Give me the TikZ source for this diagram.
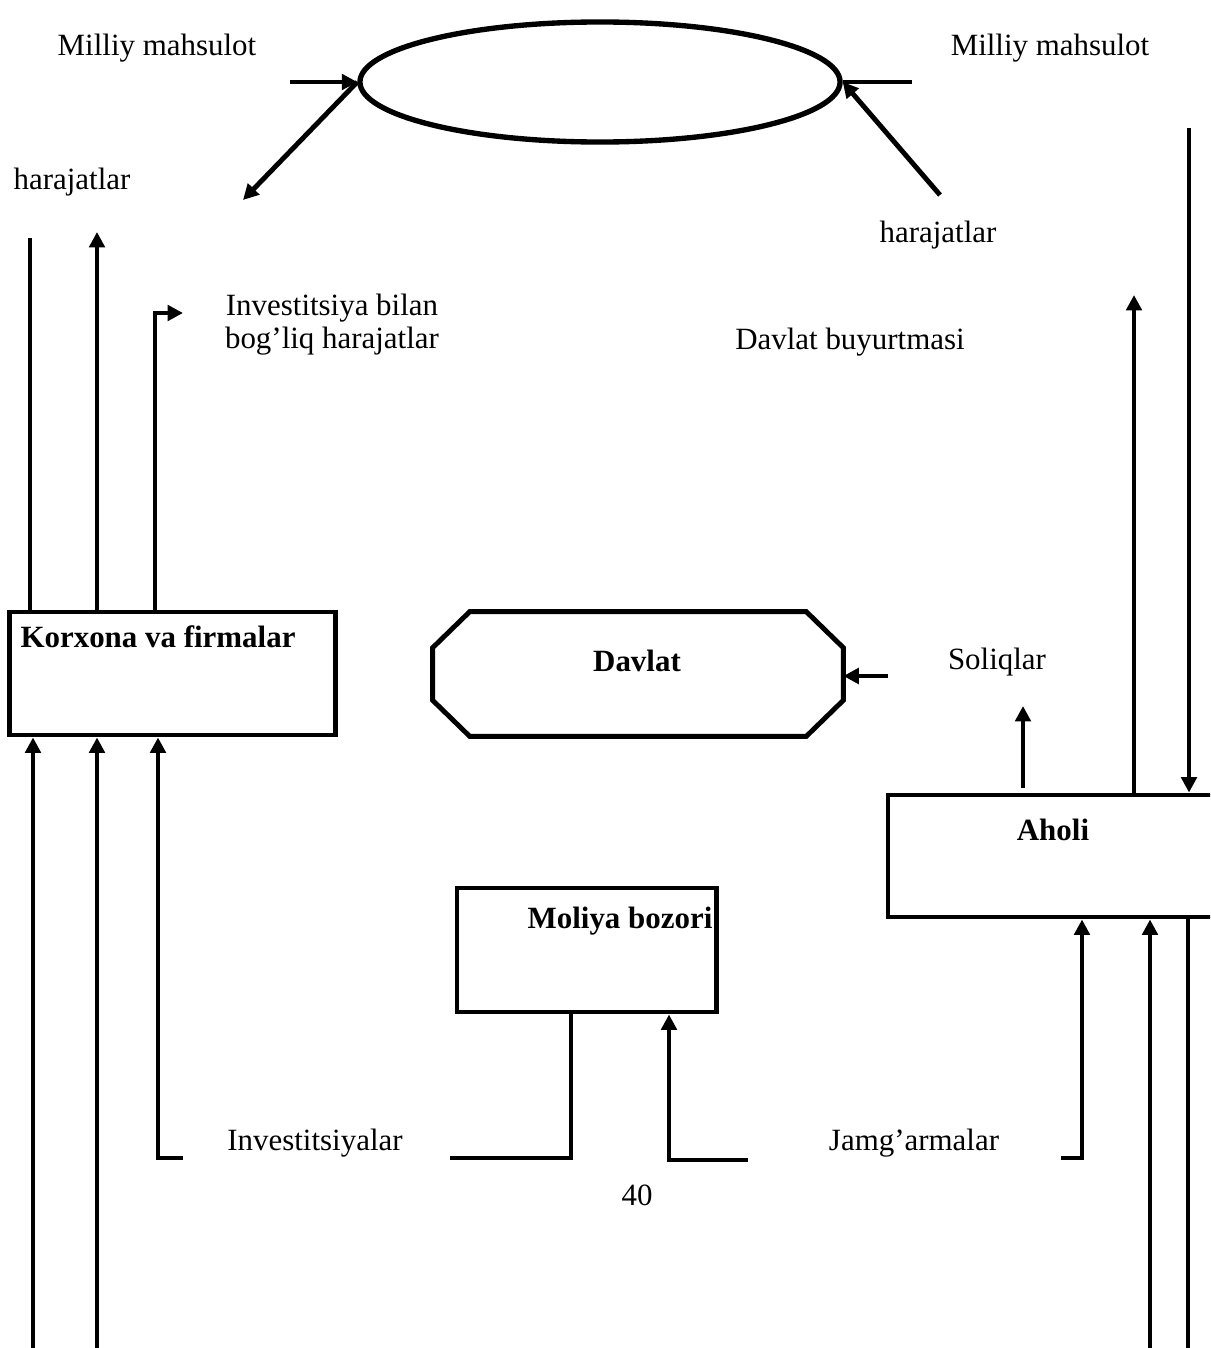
\documentclass[tikz,border=0pt]{standalone}
\usepackage{fontspec}
\setmainfont{Liberation Serif}
\usetikzlibrary{arrows.meta,shapes.geometric}
\begin{document}
\begin{tikzpicture}
  [
    x = 0.025cm, y = -0.025cm,
    every node/.style = {font = \fontsize{22}{23.5}\selectfont, inner sep = 0pt},
    head/.style = {font = \fontsize{22}{23.5}\selectfont\bfseries},
    box/.style = {draw, rectangle, line width = 3.5pt},
    flow/.style = {line width = 3.5pt},
    arr/.style = {line width = 3.5pt, -{Triangle[length = 11pt, width = 11pt]}}
  ]
    \useasboundingbox (0,0) rectangle (1210,1348);
    \clip (0,0) rectangle (1210,1348);
    \node (oval) [draw, ellipse, line width = 3.8pt, minimum width = 12cm, minimum height = 3cm] at (600,82) {};
    \node (milliyl) at (157,48) {Milliy mahsulot};
    \node (milliyr) at (1050,48) {Milliy mahsulot};
    \node (harl) at (72,182) {harajatlar};
    \node (harr) at (938,235) {harajatlar};
    \node (invh) [align = center] at (332,325) {Investitsiya bilan\\bog’liq harajatlar};
    \node (buyurtma) at (850,342) {Davlat buyurtmasi};
    \node (korxona) [box, minimum width = 8.125cm, minimum height = 3.075cm] at (172.5,673.5) {};
    \node (korxonat) [head] at (158,637) {Korxona va firmalar};
    \node (davlat) [minimum width = 10.25cm, minimum height = 3.1cm] at (638,674) {};
    \node (davlatt) [head] at (637,661) {Davlat};
    \node (soliq) at (997,662) {Soliqlar};
    \node (moliya) [box, minimum width = 6.475cm, minimum height = 3.1cm] at (586.5,950) {};
    \node (moliyat) [head] at (620,921) {Moliya bozori};
    \node (aholi) [box, minimum width = 8.55cm, minimum height = 3.05cm] at (1059,856) {};
    \node (aholit) [head] at (1053,830) {Aholi};
    \node (invest) at (315,1143) {Investitsiyalar};
    \node (jamg) at (914,1143) {Jamg’armalar};
    \node (page) at (637,1195) {40};
    \draw [flow] ([xshift = 0.925cm]davlat.north west) -- ([xshift = -0.925cm]davlat.north east)
      -- ([yshift = -0.9cm]davlat.north east) -- ([yshift = 0.9cm]davlat.south east)
      -- ([xshift = -0.925cm]davlat.south east) -- ([xshift = 0.925cm]davlat.south west)
      -- ([yshift = 0.9cm]davlat.south west) -- ([yshift = -0.9cm]davlat.north west) -- cycle;
    \coordinate (ml) at (290,82);
    \coordinate (mr) at (912,82);
    \coordinate (hl) at (243,200);
    \coordinate (hr) at (940,195);
    \draw [arr] (ml) -- (oval.west);
    \draw [flow] (oval.east) -- (mr);
    \draw [arr] (oval.west) -- (hl);
    \draw [arr] (hr) -- (oval.east);
    \coordinate (k1) at (30,238);
    \coordinate (k2) at (97,232);
    \coordinate (k3) at (155,313);
    \coordinate (k3e) at (183,313);
    \draw [flow] (k1 |- korxona.north) -- (k1);
    \draw [arr] (k2 |- korxona.north) -- (k2);
    \draw [arr] (k3 |- korxona.north) -- (k3) -- (k3e);
    \coordinate (b1) at (33,1360);
    \coordinate (b2) at (97,1360);
    \coordinate (b3) at (158,1158);
    \coordinate (b3e) at (183,1158);
    \draw [arr] (b1) -- (b1 |- korxona.south);
    \draw [arr] (b2) -- (b2 |- korxona.south);
    \draw [arr] (b3e) -- (b3) -- (b3 |- korxona.south);
    \coordinate (m1) at (571,1158);
    \coordinate (m1e) at (450,1158);
    \coordinate (m2) at (669,1160);
    \coordinate (m2e) at (748,1160);
    \draw [flow] (m1 |- moliya.south) -- (m1) -- (m1e);
    \draw [arr] (m2e) -- (m2) -- (m2 |- moliya.south);
    \coordinate (a1) at (1082,1158);
    \coordinate (a1e) at (1061,1158);
    \coordinate (a2) at (1150,1360);
    \coordinate (a3) at (1188,1360);
    \draw [arr] (a1e) -- (a1) -- (a1 |- aholi.south);
    \draw [arr] (a2) -- (a2 |- aholi.south);
    \draw [flow] (a3 |- aholi.south) -- (a3);
    \coordinate (s1) at (1023,788);
    \coordinate (s2) at (1023,706);
    \coordinate (a4) at (1134,295);
    \coordinate (a5) at (1189,128);
    \draw [arr] (s1) -- (s2);
    \draw [arr] (a4 |- aholi.north) -- (a4);
    \draw [arr] (a5) -- (a5 |- aholi.north);
    \coordinate (t1) at (888,676);
    \draw [arr] (t1) -- (t1 -| davlat.east);
  \end{tikzpicture}
\end{document}
